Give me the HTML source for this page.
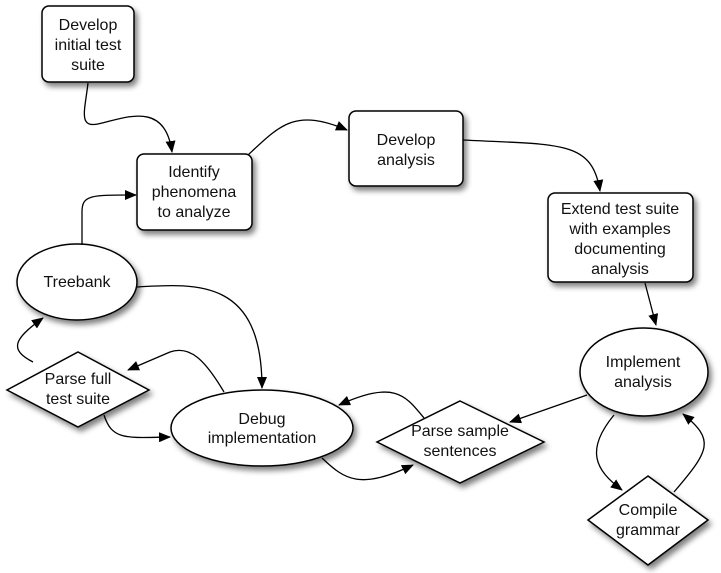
<!DOCTYPE html>
<html><head><meta charset="utf-8"><style>
html,body{margin:0;padding:0;background:#fff;}
svg{display:block;}
text{font-family:"Liberation Sans",sans-serif;font-size:16px;fill:#111;text-anchor:middle;}
</style></head><body>
<svg width="721" height="573" viewBox="0 0 721 573" xmlns="http://www.w3.org/2000/svg">
<defs>
<filter id="sh" x="-20%" y="-20%" width="150%" height="150%">
<feGaussianBlur in="SourceAlpha" stdDeviation="3"/>
<feOffset dx="3" dy="4" result="b"/>
<feComponentTransfer><feFuncA type="linear" slope="0.5"/></feComponentTransfer>
<feMerge><feMergeNode/><feMergeNode in="SourceGraphic"/></feMerge>
</filter>
<marker id="ar" markerWidth="12" markerHeight="10" refX="11" refY="5" orient="auto" markerUnits="userSpaceOnUse">
<path d="M0,0 L12,5 L0,10 z" fill="#000"/>
</marker>
</defs>
<g fill="#fff" stroke="#000" stroke-width="1.5" filter="url(#sh)">
<rect x="42" y="6" width="92" height="76" rx="7"/>
<rect x="137" y="154" width="115" height="76" rx="7"/>
<rect x="349" y="111" width="114" height="75" rx="7"/>
<rect x="548" y="193" width="145" height="89" rx="7"/>
<ellipse cx="77" cy="282" rx="60" ry="38"/>
<ellipse cx="644" cy="372" rx="64" ry="44"/>
<ellipse cx="262" cy="428" rx="91" ry="38"/>
<polygon points="78,352 149,390 78,427 7,390"/>
<polygon points="460,401 544,442 460,483 377,442"/>
<polygon points="648,476 708,520 648,565 588,520"/>
</g>
<g fill="none" stroke="#000" stroke-width="1.3" marker-end="url(#ar)">
<path d="M88,83 C85,110 78,128 98,124 C125,118 165,100 172,152"/>
<path d="M248,155 C280,125 295,108 347,130"/>
<path d="M463,140 C560,145 592,140 600,191"/>
<path d="M645,283 L656,325"/>
<path d="M82,245 L82,212 C82,195 90,195 136,195"/>
<path d="M137,287 C200,283 262,280 262,388"/>
<path d="M33,362 C10,350 12,340 43,318"/>
<path d="M224,392 C205,360 190,345 170,352 L128,370"/>
<path d="M104,415 C112,440 125,438 170,437"/>
<path d="M322,458 C345,480 360,490 413,465"/>
<path d="M424,418 C405,395 395,380 339,405"/>
<path d="M587,395 L510,422"/>
<path d="M614,415 C585,450 595,470 622,490"/>
<path d="M674,492 C710,450 715,440 683,414"/>
</g>
<text x="88" y="30">Develop</text>
<text x="88" y="50">initial test</text>
<text x="88" y="70">suite</text>
<text x="194" y="177">Identify</text>
<text x="194" y="197">phenomena</text>
<text x="194" y="217">to analyze</text>
<text x="406" y="145">Develop</text>
<text x="406" y="165">analysis</text>
<text x="620" y="214">Extend test suite</text>
<text x="620" y="234">with examples</text>
<text x="620" y="254">documenting</text>
<text x="620" y="274">analysis</text>
<text x="77" y="287">Treebank</text>
<text x="643" y="367">Implement</text>
<text x="643" y="387">analysis</text>
<text x="262" y="424">Debug</text>
<text x="262" y="443">implementation</text>
<text x="78" y="384">Parse full</text>
<text x="78" y="404">test suite</text>
<text x="460" y="436">Parse sample</text>
<text x="460" y="456">sentences</text>
<text x="648" y="515">Compile</text>
<text x="648" y="535">grammar</text>
</svg>
</body></html>
